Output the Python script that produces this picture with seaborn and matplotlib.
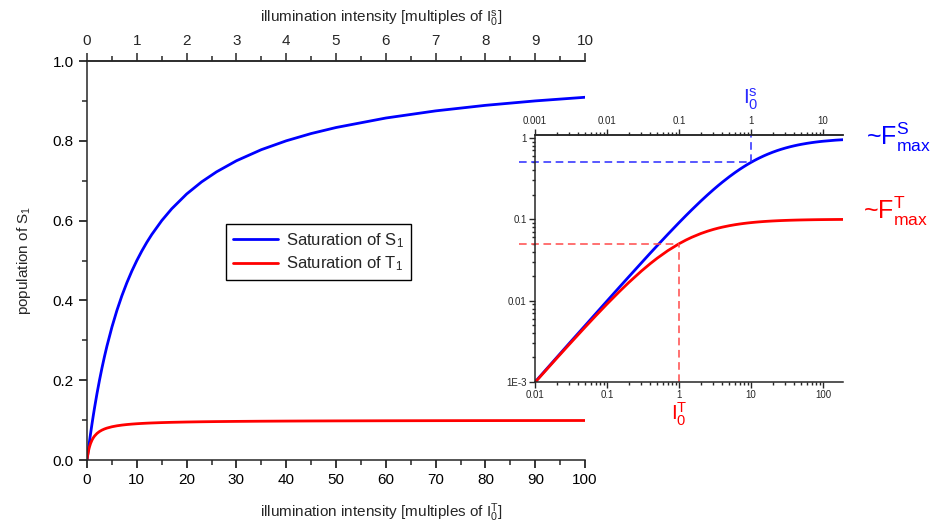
import matplotlib
matplotlib.use("Agg")
import matplotlib.pyplot as plt
import numpy as np
import pandas as pd
import seaborn as sns
from matplotlib.ticker import FixedLocator, FixedFormatter, MultipleLocator, LogLocator, NullFormatter

# ---------------- data ----------------
intensity = [0, 0.01, 0.02, 0.03, 0.05, 0.07, 0.1, 0.15, 0.2, 0.3,
             0.4, 0.5, 0.7, 1, 1.25, 1.5, 2, 2.5, 3, 3.5,
             4, 5, 6, 7, 8, 9, 10, 11, 12, 13,
             15, 17, 20, 23, 26, 30, 35, 40, 45, 50,
             60, 70, 80, 90, 100, 150, 200]
sat_S1 = [0, 0.001, 0.002, 0.003, 0.004975, 0.00695, 0.0099, 0.01478, 0.0196, 0.0291,
          0.0385, 0.0476, 0.0654, 0.0909, 0.1111, 0.1304, 0.1667, 0.2, 0.2308, 0.2593,
          0.2857, 0.3333, 0.375, 0.4118, 0.4444, 0.4737, 0.5, 0.5238, 0.5455, 0.5652,
          0.6, 0.6296, 0.6667, 0.6970, 0.7222, 0.75, 0.7778, 0.8, 0.8182, 0.8333,
          0.8571, 0.875, 0.8889, 0.9, 0.9091, 0.9375, 0.9524]
sat_T1 = [0, 0.00099, 0.00196, 0.00291, 0.00476, 0.00654, 0.00909, 0.01304, 0.01667, 0.02308,
          0.02857, 0.03333, 0.04118, 0.05, 0.05556, 0.06, 0.06667, 0.07143, 0.075, 0.07778,
          0.08, 0.08333, 0.08571, 0.0875, 0.08889, 0.09, 0.09091, 0.09167, 0.09231, 0.09286,
          0.09375, 0.09444, 0.09524, 0.09583, 0.0963, 0.09677, 0.09722, 0.09756, 0.09783, 0.09804,
          0.09836, 0.09859, 0.09877, 0.0989, 0.0990, 0.09934, 0.0995]

main_x_ticks = [0, 10, 20, 30, 40, 50, 60, 70, 80, 90, 100]
main_top_ticks = [0, 1, 2, 3, 4, 5, 6, 7, 8, 9, 10]
main_y_ticks = [0.0, 0.2, 0.4, 0.6, 0.8, 1.0]
main_y_labels = ["0.0", "0.2", "0.4", "0.6", "0.8", "1.0"]

inset_x_ticks = [0.01, 0.1, 1, 10, 100]
inset_x_labels = ["0.01", "0.1", "1", "10", "100"]
inset_top_ticks = [0.001, 0.01, 0.1, 1, 10]
inset_top_labels = ["0.001", "0.01", "0.1", "1", "10"]
inset_y_ticks = [0.001, 0.01, 0.1, 1]
inset_y_labels = ["1E-3", "0.01", "0.1", "1"]

I0_T = 1        # in multiples of I0^T
I0_S = 10       # I0^S expressed in multiples of I0^T
half_S = 0.5
half_T = 0.05

BLUE = "#0000ff"
RED = "#ff0000"

# ---------------- style ----------------
sns.set_style("ticks")
plt.rcParams["font.family"] = ["Liberation Sans", "DejaVu Sans"]
plt.rcParams["mathtext.default"] = "regular"
plt.rcParams["axes.linewidth"] = 1.1

df = pd.DataFrame({"x": intensity, "S": sat_S1, "T": sat_T1})

fig = plt.figure(figsize=(9.42, 5.25), dpi=100)

# ---------------- main axes ----------------
ax = fig.add_axes([0.0924, 0.1238, 0.5287, 0.76])
sns.lineplot(data=df, x="x", y="S", color=BLUE, lw=2, ax=ax, sort=False,
             label="Saturation of S$_1$")
sns.lineplot(data=df, x="x", y="T", color=RED, lw=2, ax=ax, sort=False,
             label="Saturation of T$_1$")
ax.set_xlim(0, 100)
ax.set_ylim(0, 1.0)
ax.spines["right"].set_visible(False)
ax.set_xticks(main_x_ticks)
ax.xaxis.set_minor_locator(MultipleLocator(5))
ax.yaxis.set_major_locator(FixedLocator(main_y_ticks))
ax.yaxis.set_major_formatter(FixedFormatter(main_y_labels))
ax.yaxis.set_minor_locator(MultipleLocator(0.1))
ax.tick_params(which="major", direction="out", length=6, width=1.1, labelsize=11, colors="black")
ax.tick_params(which="minor", direction="out", length=3.5, width=1.1)
ax.tick_params(axis="x", top=False, which="both")
ax.set_xlabel(r"illumination intensity [multiples of $I_0^T$]", fontsize=11, labelpad=10, x=0.59)
ax.set_ylabel(r"population of S$_1$", fontsize=11, labelpad=14)

sec = ax.secondary_xaxis("top", functions=(lambda v: v / 10, lambda v: v * 10))
sec.set_xticks(main_top_ticks)
sec.xaxis.set_minor_locator(MultipleLocator(0.5))
sec.tick_params(which="major", direction="out", length=6, width=1.1, labelsize=11)
sec.tick_params(which="minor", direction="out", length=3.5, width=1.1)
sec.spines["top"].set_linewidth(1.1)
sec.set_xlabel(r"illumination intensity [multiples of $I_0^s$]", fontsize=11, labelpad=8, x=0.59)

leg = ax.legend(loc="upper left", bbox_to_anchor=(0.262, 0.612), frameon=True, fancybox=False,
                edgecolor="black", framealpha=1, fontsize=12, handlelength=2.7,
                borderpad=0.4, labelspacing=0.3, handletextpad=0.5)
leg.get_frame().set_linewidth(1.0)

# ---------------- inset ----------------
ax_in = fig.add_axes([0.568, 0.2724, 0.327, 0.4714])
ax_in.set_facecolor("none")
ax_in.set_xscale("log")
ax_in.set_yscale("log")
dfi = df[df["x"] > 0]
sns.lineplot(data=dfi, x="x", y="S", color=BLUE, lw=2, ax=ax_in, sort=False)
sns.lineplot(data=dfi, x="x", y="T", color=RED, lw=2, ax=ax_in, sort=False)
ax_in.set_xlim(0.01, 190)
ax_in.set_ylim(0.001, 1.1)
ax_in.spines["right"].set_visible(False)
ax_in.set_xlabel("")
ax_in.set_ylabel("")
ax_in.xaxis.set_major_locator(FixedLocator(inset_x_ticks))
ax_in.xaxis.set_major_formatter(FixedFormatter(inset_x_labels))
ax_in.xaxis.set_minor_locator(LogLocator(base=10, subs=np.arange(2, 10)))
ax_in.xaxis.set_minor_formatter(NullFormatter())
ax_in.yaxis.set_major_locator(FixedLocator(inset_y_ticks))
ax_in.yaxis.set_major_formatter(FixedFormatter(inset_y_labels))
ax_in.yaxis.set_minor_locator(LogLocator(base=10, subs=np.arange(2, 10)))
ax_in.yaxis.set_minor_formatter(NullFormatter())
ax_in.tick_params(which="major", direction="out", length=4, width=1.0, labelsize=7, pad=2)
ax_in.tick_params(which="minor", direction="out", length=2.5, width=1.0)
ax_in.tick_params(axis="x", top=False, which="both")

sec_in = ax_in.secondary_xaxis("top", functions=(lambda v: v / 10, lambda v: v * 10))
sec_in.xaxis.set_major_locator(FixedLocator(inset_top_ticks))
sec_in.xaxis.set_major_formatter(FixedFormatter(inset_top_labels))
sec_in.xaxis.set_minor_locator(LogLocator(base=10, subs=np.arange(2, 10)))
sec_in.xaxis.set_minor_formatter(NullFormatter())
sec_in.tick_params(which="major", direction="out", length=4, width=1.0, labelsize=7, pad=2)
sec_in.tick_params(which="minor", direction="out", length=2.5, width=1.0)

dash = (0, (5, 3))
ax_in.plot([0.006, I0_S], [half_S, half_S], ls=dash, color="#2a2aff", lw=1.1, clip_on=False)
ax_in.plot([I0_S, I0_S], [half_S, 1.1], ls=dash, color="#2a2aff", lw=1.1, clip_on=False)
ax_in.plot([0.006, I0_T], [half_T, half_T], ls=dash, color="#ff4a4a", lw=1.1, clip_on=False)
ax_in.plot([I0_T, I0_T], [0.001, half_T], ls=dash, color="#ff4a4a", lw=1.1, clip_on=False)

tr = ax_in.get_xaxis_transform()
ax_in.text(I0_S, 1.143, r"$I_0^s$", transform=tr, color="#2a2aff", fontsize=15,
           ha="center", va="center")
ax_in.text(I0_T, -0.13, r"$I_0^T$", transform=tr, color=RED, fontsize=15,
           ha="center", va="center")

fig.text(866 / 942, 1 - 137 / 525, r"~F$_{max}^{S}$", color=BLUE, fontsize=18,
         ha="left", va="center")
fig.text(863 / 942, 1 - 211 / 525, r"~F$_{max}^{T}$", color=RED, fontsize=18,
         ha="left", va="center")

fig.savefig("out.png", dpi=100)
